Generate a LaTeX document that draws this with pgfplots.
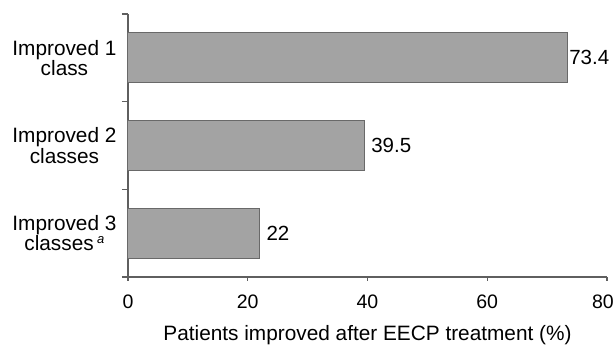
\documentclass[border=0pt]{standalone}
\usepackage{pgfplots}
\pgfplotsset{compat=1.18}
\usepackage{fontspec}
\setmainfont{Liberation Sans}
\definecolor{barfill}{RGB}{163,163,163}
\definecolor{baredge}{RGB}{105,105,105}
\definecolor{axcol}{RGB}{95,95,95}
\begin{document}
\begin{tikzpicture}
\useasboundingbox (0pt,0pt) rectangle (616pt,347pt);
\begin{axis}[
  at={(128pt,70pt)}, anchor=south west,
  scale only axis, width=479pt, height=263pt,
  xmin=0, xmax=80, ymin=0.5, ymax=3.5,
  axis x line*=bottom, axis y line*=left,
  axis line style={axcol, line width=1.3pt, -},
  xtick={0,20,40,60,80},
  xticklabels={0,20,40,60,\hspace*{-8pt}80},
  ytick={1,2,3},
  yticklabels={{Improved 3\\classes\,\raisebox{0.35em}{\fontsize{13}{13}\selectfont\itshape a}}, {Improved 2\\classes}, {Improved 1\\class}},
  yticklabel style={align=center, font=\fontsize{20.8}{18}\selectfont, xshift=-4pt},
  minor ytick={0.5,1.5,2.5,3.5},
  major y tick style={draw=none},
  minor y tick style={axcol, line width=1.3pt},
  minor tick length=6pt,
  major x tick style={axcol, line width=1.3pt},
  major tick length=4pt,
  tick align=outside,
  xticklabel style={font=\fontsize{19.5}{19.5}\selectfont, yshift=-10pt},
  /pgf/number format/assume math mode=true,
  xlabel={Patients improved after EECP treatment (\%)},
  xlabel style={font=\fontsize{20.8}{20.8}\selectfont, yshift=-10pt},
  xbar, bar width=50pt,
  nodes near coords,
  every node near coord/.append style={font=\fontsize{20.5}{20.5}\selectfont, anchor=west, xshift=3pt},
  point meta=explicit symbolic,
  clip=false,
]
\addplot[fill=barfill, draw=baredge, line width=1pt] coordinates {
  (22,1) [22]
  (39.5,2) [39.5]
  (73.4,3) [\hspace*{-5pt}73.4]
};
\end{axis}
\end{tikzpicture}
\end{document}
